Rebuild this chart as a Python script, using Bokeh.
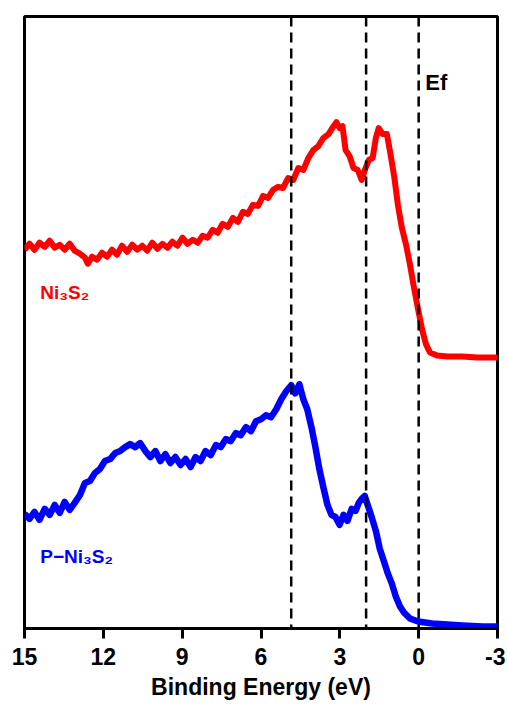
from bokeh.plotting import figure
from bokeh.models import Range1d, FixedTicker, Span
from bokeh.core.properties import value
from bokeh.embed import file_html
from bokeh.resources import INLINE

# Binding energy (eV) and intensity (a.u.)
ni3s2_energy = [15.0, 14.81, 14.62, 14.43, 14.23, 14.04, 13.85, 13.66, 13.47, 13.28, 13.09, 12.89, 12.70,
                12.59, 12.43, 12.24, 12.05, 11.86, 11.67, 11.48, 11.29, 11.09, 10.90, 10.71, 10.52, 10.33,
                10.14, 9.94, 9.75, 9.56, 9.37, 9.18, 8.99, 8.80, 8.60, 8.41, 8.22, 8.03, 7.84, 7.65, 7.46,
                7.26, 7.07, 6.88, 6.69, 6.50, 6.31, 6.11, 5.92, 5.73, 5.54, 5.35, 5.16, 4.97, 4.77, 4.58,
                4.39, 4.20, 4.01, 3.82, 3.63, 3.43, 3.24, 3.13, 3.01, 2.90, 2.78, 2.63, 2.48, 2.32, 2.17,
                2.05, 1.90, 1.75, 1.63, 1.52, 1.37, 1.21, 1.10, 0.94, 0.79, 0.64, 0.48, 0.33, 0.18, 0.02,
                -0.13, -0.28, -0.43, -0.70, -1.09, -1.66, -2.23, -3.0]
ni3s2_intensity = [380, 386, 380, 387, 383, 389, 382, 385, 380, 386, 379, 376, 372,
                   366, 373, 370, 377, 373, 380, 375, 384, 378, 385, 380, 384, 379,
                   387, 381, 386, 382, 388, 384, 392, 386, 390, 387, 394, 392, 400, 397, 406,
                   403, 412, 408, 418, 416, 425, 424, 434, 432, 440, 443, 442, 452, 450, 462,
                   460, 472, 480, 484, 492, 496, 504, 508, 502, 504, 480, 474, 462, 460, 450,
                   460, 470, 472, 492, 502, 496, 496, 480, 455, 425, 402, 385, 365, 342, 320,
                   300, 285, 277, 274, 273, 273, 272, 272]

p_ni3s2_energy = [15.0, 14.81, 14.62, 14.43, 14.23, 14.04, 13.85, 13.66, 13.47, 13.28, 13.09, 12.89, 12.70,
                  12.51, 12.32, 12.13, 11.94, 11.74, 11.55, 11.36, 11.17, 10.98, 10.79, 10.60, 10.40, 10.21,
                  10.02, 9.83, 9.64, 9.45, 9.26, 9.06, 8.87, 8.68, 8.49, 8.30, 8.11, 7.91, 7.72, 7.53, 7.34,
                  7.15, 6.96, 6.77, 6.57, 6.38, 6.19, 6.00, 5.81, 5.62, 5.42, 5.23, 5.04, 4.85, 4.70, 4.54,
                  4.39, 4.24, 4.08, 3.93, 3.78, 3.63, 3.47, 3.32, 3.17, 3.01, 2.86, 2.71, 2.55, 2.40, 2.28,
                  2.17, 2.05, 1.94, 1.79, 1.63, 1.48, 1.33, 1.17, 1.02, 0.87, 0.71, 0.56, 0.33, 0.02, -0.51,
                  -1.09, -1.66, -2.43, -3.0]
p_ni3s2_intensity = [115, 110, 117, 109, 120, 114, 124, 116, 127, 119, 126, 134, 146,
                     148, 156, 160, 168, 170, 176, 178, 182, 185, 182, 186, 178, 172,
                     178, 168, 175, 166, 172, 164, 170, 162, 172, 168, 178, 174, 184, 182, 190,
                     188, 196, 194, 202, 198, 208, 210, 214, 212, 220, 230, 238, 244, 236, 245,
                     230, 220, 202, 182, 160, 142, 124, 114, 112, 104, 114, 108, 120, 118, 126,
                     130, 133, 124, 112, 98, 80, 68, 55, 45, 32, 22, 16, 10, 7, 5,
                     4, 3, 2, 2]

marker_energies = [4.85, 2.0, 0.0]
tick_values = [15, 12, 9, 6, 3, 0, -3]
tick_labels = ["15", "12", "9", "6", "3", "0", "-3"]
series_labels = ["Ni\u2083S\u2082", "P\u2212Ni\u2083S\u2082"]
label_energy = [14.4, 14.4]
label_intensity = [337, 72]
ef_label = "Ef"
ef_pos = (-0.25, 548)

FONT = "Liberation Sans"

p = figure(width=505, height=702, output_backend="svg", toolbar_location=None,
           x_range=Range1d(15, -3), y_range=Range1d(0, 614),
           min_border_left=24, min_border_right=8, min_border_top=16, min_border_bottom=72)

p.line(ni3s2_energy, ni3s2_intensity, line_color="#ff0000", line_width=6, line_join="round")
p.line(p_ni3s2_energy, p_ni3s2_intensity, line_color="#0000ff", line_width=6.5, line_join="round")

for e in marker_energies:
    p.add_layout(Span(location=e, dimension="height", line_color="black",
                      line_width=2.5, line_dash="10 6"))

p.text(x=[label_energy[0]], y=[label_intensity[0]], text=[series_labels[0]],
       text_color="#ff0000", text_font=value(FONT), text_font_style="bold",
       text_font_size="19px", text_baseline="alphabetic", text_align="left")
p.text(x=[label_energy[1]], y=[label_intensity[1]], text=[series_labels[1]],
       text_color="#0000ff", text_font=value(FONT), text_font_style="bold",
       text_font_size="19px", text_baseline="alphabetic", text_align="left")
p.text(x=[ef_pos[0]], y=[ef_pos[1]], text=[ef_label], text_color="black",
       text_font=value(FONT), text_font_style="bold", text_font_size="22px",
       text_baseline="alphabetic", text_align="left")

p.xgrid.visible = False
p.ygrid.visible = False
p.yaxis.visible = False
p.outline_line_color = "black"
p.outline_line_width = 3
p.outline_line_alpha = 1

ax = p.xaxis[0]
ax.ticker = FixedTicker(ticks=tick_values)
ax.major_label_overrides = {v: l for v, l in zip(tick_values, tick_labels)}
ax.axis_label = "Binding Energy (eV)"
ax.axis_label_text_font = FONT
ax.axis_label_text_font_style = "bold"
ax.axis_label_text_font_size = "23px"
ax.axis_label_text_color = "black"
ax.axis_label_standoff = 6
ax.major_label_text_font = FONT
ax.major_label_text_font_style = "bold"
ax.major_label_text_font_size = "23px"
ax.major_label_text_color = "black"
ax.major_label_standoff = 9
ax.axis_line_width = 3
ax.axis_line_color = "black"
ax.major_tick_line_width = 3
ax.major_tick_line_color = "black"
ax.major_tick_out = 10
ax.major_tick_in = 0
ax.minor_tick_out = 0
ax.minor_tick_in = 0

open("out.html", "w").write(file_html(p, INLINE))
